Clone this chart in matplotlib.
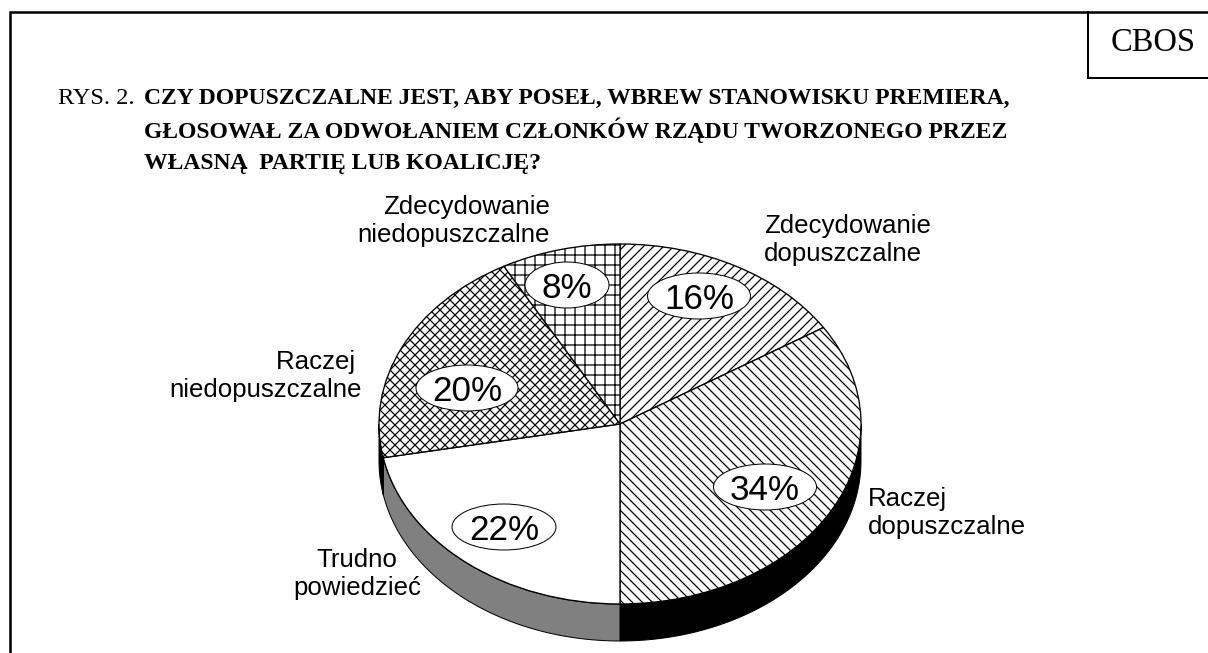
import numpy as np
import matplotlib
matplotlib.use("Agg")
import matplotlib.pyplot as plt
from matplotlib.patches import Ellipse

categories = ["Zdecydowanie\ndopuszczalne", "Raczej\ndopuszczalne", "Trudno\npowiedzieć",
              "Raczej \nniedopuszczalne", "Zdecydowanie\nniedopuszczalne"]
values = [16, 34, 22, 20, 8]
hatches = ["////", "\\\\\\\\", None, "xxxx", "++"]
side_colors = ["black", "black", "#808080", "black", "black"]

title_lines = ["CZY DOPUSZCZALNE JEST, ABY POSEŁ, WBREW STANOWISKU PREMIERA,",
               "GŁOSOWAŁ ZA ODWOŁANIEM CZŁONKÓW RZĄDU TWORZONEGO PRZEZ",
               "WŁASNĄ  PARTIĘ LUB KOALICJĘ?"]

W, H, DPI = 1208, 653, 120
plt.rcParams["hatch.linewidth"] = 0.75

fig = plt.figure(figsize=(W / DPI, H / DPI), dpi=DPI)

# overlay in pixel coordinates for frame and text
page = fig.add_axes([0, 0, 1, 1], zorder=3)
page.set_xlim(0, W)
page.set_ylim(H, 0)
page.axis("off")
page.patch.set_alpha(0)

page.plot([10, 10, W], [H, 12, 12], color="black", lw=1.5, solid_joinstyle="miter")
page.plot([1088, 1088, W], [12, 78, 78], color="black", lw=1.2, solid_joinstyle="miter")
page.text(1153, 43, "CBOS", family="Liberation Serif", fontsize=19.5, ha="center", va="center")

page.text(58, 104, "RYS. 2.", family="Liberation Serif", fontsize=14.6, va="baseline")
for line, base in zip(title_lines, [104, 138, 169]):
    page.text(144, base, line, family="Liberation Serif", fontweight="bold",
              fontsize=14.15, va="baseline")

# pie: axes stretched so the unit circle becomes the tilted ellipse
cx, cy, rx, ry = 620, 424, 241, 180
depth = 37 / ry
ax = fig.add_axes([(cx - rx) / W, (H - cy - ry) / H, 2 * rx / W, 2 * ry / H], zorder=1)

edges = np.cumsum([0] + values) / sum(values) * 360
for start, end, color in zip(edges[:-1], edges[1:], side_colors):
    a = max(start, 90)
    b = min(end, 270)
    if a >= b:
        continue
    t = np.radians(np.linspace(a, b, 60))
    x = np.sin(t)
    y = np.cos(t)
    ax.fill(np.r_[x, x[::-1]], np.r_[y, y[::-1] - depth], facecolor=color,
            edgecolor="black", lw=0.6, clip_on=False)

wedges, _ = ax.pie(values, startangle=90, counterclock=False, radius=1, colors=["white"] * 5,
                   hatch=hatches, wedgeprops=dict(edgecolor="black", linewidth=0.8))
ax.set_aspect("auto")
ax.set_xlim(-1, 1)
ax.set_ylim(-1, 1)
for w in wedges:
    w.set_clip_on(False)

# percent labels in white ovals
oval_pos = [(699, 296), (765, 487), (504, 527), (467, 388), (567, 285)]
oval_w = [103, 103, 104, 102, 84]
for (px, py), ow, v in zip(oval_pos, oval_w, values):
    page.add_patch(Ellipse((px, py), ow, 46, facecolor="white", edgecolor="black", lw=0.6))
    page.text(px, py, f"{v}%", family="Liberation Sans", fontsize=21, ha="center", va="center_baseline")

label_pos = [(764, 240, "left", "left"), (868, 513, "left", "left"), (421, 574, "right", "center"),
             (362, 376, "right", "right"), (550, 221, "right", "right")]
for (px, py, ha, ma), label in zip(label_pos, categories):
    page.text(px, py, label, family="Liberation Sans", fontsize=15.5, ha=ha, va="center",
              multialignment=ma, linespacing=1.25)

fig.savefig("out.png", dpi=DPI, facecolor="white")
